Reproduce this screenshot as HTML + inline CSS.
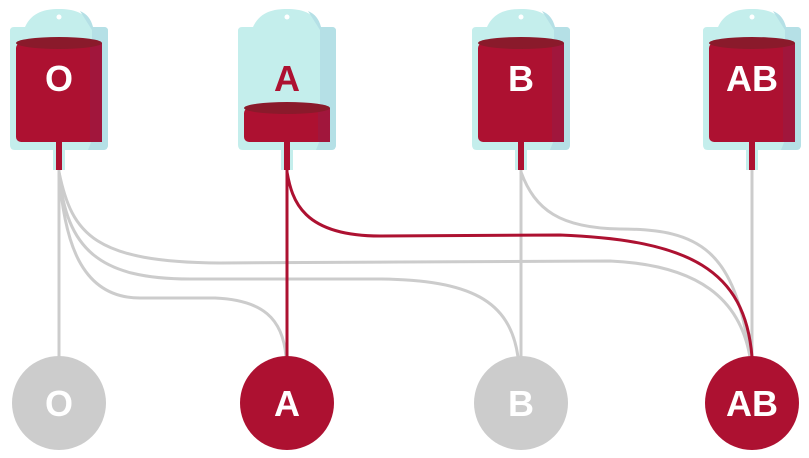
<!DOCTYPE html>
<html><head><meta charset="utf-8"><style>
html,body{margin:0;padding:0;background:#fff;}
svg{display:block;}
text{font-family:"Liberation Sans",sans-serif;font-weight:bold;fill:#fff;text-anchor:middle;}
</style></head><body>
<svg width="809" height="458" viewBox="0 0 809 458" xmlns="http://www.w3.org/2000/svg">
<defs>
<g id="bag">
  <path d="M25,27 C32,12 45,9 59,9 C73,9 86,12 93,27 L104,27 Q108,27 108,31 L108,145 Q108,150 103,150 L15,150 Q10,150 10,145 L10,31 Q10,27 14,27 Z" fill="#c4eeec"/>
  <path d="M80,11 C87,14 91,19 93,27 L104,27 Q108,27 108,31 L108,145 Q108,150 103,150 L88,150 L92,140 L92,30 Z" fill="#b5e0e6"/>
  <circle cx="59" cy="17" r="2.5" fill="#fff"/>
  <rect x="53" y="142" width="12" height="28" fill="#c4eeec"/>
  <rect x="56" y="142" width="6" height="28" fill="#ad1131"/>
</g>
</defs>

<!-- connectors -->
<g fill="none" stroke="#cccccc" stroke-width="3">
  <path d="M59,170 L59,357"/>
  <path d="M59,170 C65,215 75,230 110,232 C120,232 110,300 160,300 L230,300 C270,300 282,320 284,357" stroke="none"/>
  <path d="M59,172 C64,240 80,298 140,298 L215,298 C262,300 283,318 286,357"/>
  <path d="M59,172 C66,250 100,279 190,279 L380,279 C470,280 510,300 518,357"/>
  <path d="M59,172 C72,235 95,262 220,263 L400,262 L610,261 C700,265 740,300 750,357"/>
  <path d="M521,170 L521,357"/>
  <path d="M521,172 C535,210 560,228 620,229 C700,229 735,250 750,357"/>
  <path d="M752,170 L752,357"/>
</g>
<g fill="none" stroke="#ad1131" stroke-width="3">
  <path d="M287,170 L287,357"/>
  <path d="M287,172 C292,200 302,236 380,236 L560,235 C690,240 745,270 752,357"/>
</g>

<!-- bags -->
<use href="#bag"/>
<rect x="16" y="43" width="86" height="99" rx="5" fill="#ad1131"/>
<rect x="90" y="43" width="12" height="99" fill="#a1163c"/>
<ellipse cx="59" cy="43" rx="43" ry="6" fill="#8a1a2b"/>
<text x="59" y="91" font-size="36">O</text>

<g transform="translate(228,0)">
<use href="#bag"/>
<rect x="16" y="108" width="86" height="34" rx="5" fill="#ad1131"/>
<rect x="90" y="108" width="12" height="34" fill="#a1163c"/>
<ellipse cx="59" cy="108" rx="43" ry="6" fill="#8a1a2b"/>
<text x="59" y="91" font-size="36" style="fill:#ad1131">A</text>
</g>

<g transform="translate(462,0)">
<use href="#bag"/>
<rect x="16" y="43" width="86" height="99" rx="5" fill="#ad1131"/>
<rect x="90" y="43" width="12" height="99" fill="#a1163c"/>
<ellipse cx="59" cy="43" rx="43" ry="6" fill="#8a1a2b"/>
<text x="59" y="91" font-size="36">B</text>
</g>

<g transform="translate(693,0)">
<use href="#bag"/>
<rect x="16" y="43" width="86" height="99" rx="5" fill="#ad1131"/>
<rect x="90" y="43" width="12" height="99" fill="#a1163c"/>
<ellipse cx="59" cy="43" rx="43" ry="6" fill="#8a1a2b"/>
<text x="59" y="91" font-size="36">AB</text>
</g>

<!-- recipients -->
<circle cx="59" cy="403" r="47" fill="#cccccc"/>
<text x="59" y="416" font-size="36">O</text>
<circle cx="287" cy="403" r="47" fill="#ad1131"/>
<text x="287" y="416" font-size="36">A</text>
<circle cx="521" cy="403" r="47" fill="#cccccc"/>
<text x="521" y="416" font-size="36">B</text>
<circle cx="752" cy="403" r="47" fill="#ad1131"/>
<text x="752" y="416" font-size="36">AB</text>
</svg>
</body></html>
